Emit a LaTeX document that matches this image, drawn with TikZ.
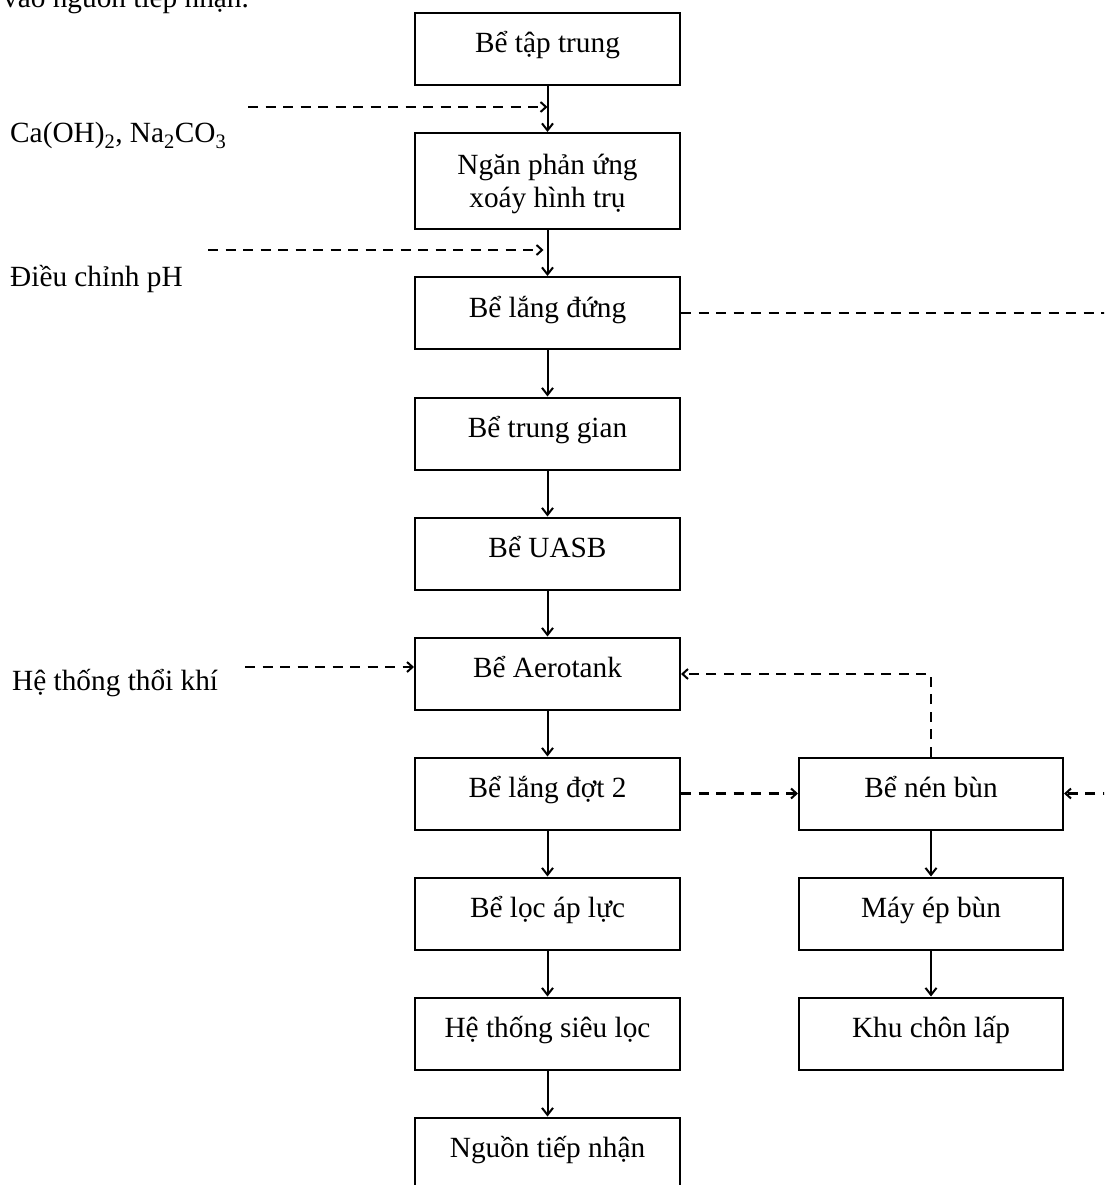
\documentclass[tikz,border=0pt]{standalone}
\usepackage{fontspec}
\setmainfont{Liberation Serif}
\usetikzlibrary{arrows.meta}
\begin{document}
\begin{tikzpicture}[x=1pt,y=-1pt,
  txt/.style={font=\fontsize{29.3}{33}\selectfont, inner sep=0pt},
  box/.style={txt, draw, line width=2pt, minimum width=265pt, minimum height=72pt,
    align=center, text height=20pt, text depth=12pt},
  flow/.style={-{Straight Barb[length=7pt,width=11pt]}, line width=2pt},
  dflow/.style={line width=2.7pt, dash pattern=on 10pt off 7.5pt},
  dtip/.style={dflow, -{Straight Barb[length=5.5pt,width=10pt,line width=2pt]}}
]
\clip (0,0) rectangle (1104,1185);
\useasboundingbox (0,0) rectangle (1104,1185);

% top cut text
\node[txt, anchor=base west] (toptext) at (3,8) {vào nguồn tiếp nhận.};

% main column
\node[box] (b1) at (547.5,49) {Bể tập trung};
\node[box, minimum height=96pt, text height=, text depth=] (b2) at (547.5,181) {\rule{0pt}{26pt}Ngăn phản ứng\\xoáy hình trụ};
\node[box] (b3) at (547.5,313) {Bể lắng đứng};
\node[box] (b4) at (547.5,433.5) {Bể trung gian};
\node[box] (b5) at (547.5,553.5) {Bể UASB};
\node[box] (b6) at (547.5,673.5) {Bể Aerotank};
\node[box] (b7) at (547.5,793.5) {Bể lắng đợt 2};
\node[box] (b8) at (547.5,913.5) {Bể lọc áp lực};
\node[box] (b9) at (547.5,1033.5) {Hệ thống siêu lọc};
\node[box] (b10) at (547.5,1153.5) {Nguồn tiếp nhận};

% right column
\node[box, minimum width=264pt] (r1) at (931,793.5) {Bể nén bùn};
\node[box, minimum width=264pt] (r2) at (931,913.5) {Máy ép bùn};
\node[box, minimum width=264pt] (r3) at (931,1033.5) {Khu chôn lấp};

% left labels
\node[txt, anchor=base west] (l1) at (10,143) {Ca(OH)\textsubscript{2}, Na\textsubscript{2}CO\textsubscript{3}};
\node[txt, anchor=base west] (l2) at (10,286) {Điều chỉnh pH};
\node[txt, anchor=base west] (l3) at (12,690) {Hệ thống thổi khí};

% solid flow
\draw[flow] (b1) -- (b2);
\draw[flow] (b2) -- (b3);
\draw[flow] (b3) -- (b4);
\draw[flow] (b4) -- (b5);
\draw[flow] (b5) -- (b6);
\draw[flow] (b6) -- (b7);
\draw[flow] (b7) -- (b8);
\draw[flow] (b8) -- (b9);
\draw[flow] (b9) -- (b10);
\draw[flow] (r1) -- (r2);
\draw[flow] (r2) -- (r3);

% dashed inputs
\coordinate (c1) at (248,107);
\coordinate (c2) at (208,250);
\coordinate (c3) at (245,667);
\draw[dtip] (c1) -- (c1 -| b1.south);
\draw[dtip] (c2) -- ([xshift=-4pt]c2 -| b2.south);
\draw[dtip] (c3) -- (c3 -| b6.west);

% sludge lines
\draw[dtip] (b7.east) -- (r1.west);
\draw[dtip] (r1.north) |- ([yshift=-0.5pt]b6.east);
\coordinate (e1) at (1130,313);
\coordinate (e2) at (1130,793.5);
\draw[dflow] (b3.east) -- (e1) -- (e2);
\draw[dtip] (e2) -- (r1.east);
\end{tikzpicture}
\end{document}
